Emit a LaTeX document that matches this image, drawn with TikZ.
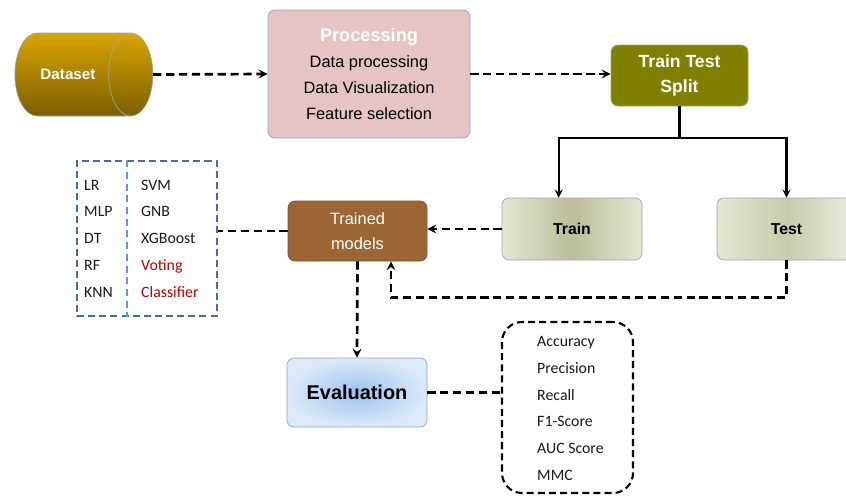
\documentclass[tikz,border=0pt]{standalone}
\usepackage{fontspec}
\setmainfont{Liberation Sans}
\newfontfamily\calfont{Carlito}
\usetikzlibrary{shapes.geometric}

\definecolor{goldtop}{HTML}{D9A500}
\definecolor{goldbot}{HTML}{7C5E00}
\definecolor{pinkbox}{HTML}{E6C4C4}
\definecolor{olive}{HTML}{808000}
\definecolor{oliveedge}{HTML}{E6E6D4}
\definecolor{olivemid}{HTML}{BDBD98}
\definecolor{brown}{HTML}{9C6634}
\definecolor{evalin}{HTML}{9CC2F0}
\definecolor{evalout}{HTML}{DCE9F8}
\definecolor{boxline}{HTML}{95A8BE}
\definecolor{mdlblue}{HTML}{41719C}
\definecolor{divblue}{HTML}{5B9BD5}
\definecolor{votered}{HTML}{C00000}

\begin{document}
\begin{tikzpicture}[x=0.03cm,y=-0.03cm,>=stealth,
	stage/.style={rounded corners=6pt,draw=boxline,line width=0.6pt,align=center,inner sep=0pt},
	link/.style={line width=2.3pt,dash pattern=on 7pt off 4pt},
	branch/.style={line width=2pt},
	listtext/.style={align=left,anchor=west,inner sep=0pt,text=black!90,font=\calfont\fontsize{13.5}{22.8}\selectfont}]
	\useasboundingbox (0,0) rectangle (846,495);
	
	%DATASET
	\node[cylinder,shape border rotate=0,aspect=2.4,minimum width=2.49cm,minimum height=4.14cm,
		draw=boxline,line width=0.5pt,top color=goldtop,bottom color=goldbot,
		text=white,font=\fontsize{13}{16}\selectfont\bfseries] (data) at (68,74.5) {Dataset};
	
	%PROCESSING
	\node[stage,fill=pinkbox,minimum width=6.06cm,minimum height=3.84cm,
		font=\fontsize{14}{22}\selectfont] (proc) at (369,74)
		{{\fontsize{15.5}{20}\selectfont\bfseries\color{white}Processing}\\Data processing\\Data Visualization\\Feature selection};
	
	%SPLIT
	\node[stage,fill=olive,draw=olive!70,minimum width=4.11cm,minimum height=1.83cm,
		text=white,font=\fontsize{15}{22}\selectfont\bfseries] (tts) at (679.5,75.5) {Train Test\\Split};
	
	\node[stage,left color=oliveedge,right color=oliveedge,middle color=olivemid,
		minimum width=4.2cm,minimum height=1.86cm,font=\fontsize{13.5}{16}\selectfont\bfseries] (train) at (572,229) {Train};
	\node[stage,left color=oliveedge,right color=oliveedge!70!white,middle color=olivemid!80!white,
		minimum width=4.17cm,minimum height=1.86cm,font=\fontsize{13.5}{16}\selectfont\bfseries] (test) at (786.5,229) {Test};
	
	%MODELS
	\node[stage,fill=brown,draw=brown!80!black,minimum width=4.17cm,minimum height=1.8cm,
		text=white,font=\fontsize{14}{21}\selectfont] (trained) at (357.5,231) {Trained\\models};
	
	\node[draw=mdlblue,line width=1.5pt,dash pattern=on 6pt off 3.5pt,minimum width=4.2cm,minimum height=4.65cm,inner sep=0pt] (models) at (147,238.5) {};
	\draw[divblue,line width=1.2pt,dash pattern=on 6pt off 4pt] ([xshift=1.53cm]models.north west)--([xshift=1.53cm]models.south west);
	\node[listtext] (colA) at (84,238.5) {LR\\MLP\\DT\\RF\\KNN};
	\node[listtext] (colB) at (141,238.5) {SVM\\GNB\\XGBoost\\\textcolor{votered}{Voting}\\\textcolor{votered}{Classifier}};
	
	%EVALUATION
	\node[stage,shading=radial,inner color=evalin,outer color=evalout,draw=boxline,
		minimum width=4.2cm,minimum height=2.07cm,font=\fontsize{17}{20}\selectfont\bfseries] (eval) at (357,392.5) {Evaluation};
	
	\node[draw,rounded corners=0.6cm,line width=1.8pt,dash pattern=on 6pt off 3.5pt,
		minimum width=3.93cm,minimum height=5.13cm,inner sep=0pt] (metrics) at (567.5,407.5) {};
	\node[listtext] (mlist) at (537,408.5) {Accuracy\\Precision\\Recall\\F1-Score\\AUC Score\\MMC};
	
	%LINKS
	\coordinate (fork) at (679.5,138);
	\coordinate (back) at (391,297.5);
	\draw[link,->] (data.east)--(proc.west);
	\draw[link,->] (proc.east)--(proc.east -| tts.west);
	\draw[branch] (tts.south)--(fork);
	\draw[branch,->] (fork)-|([xshift=-0.4cm]train.north);
	\draw[branch,->] (fork)-|(test.north);
	\draw[link,->] (train.west)--(train.west -| trained.east);
	\draw[link,->] (test.south)|-(back)--(back |- trained.south);
	\draw[link] (trained.west)--(trained.west -| models.east);
	\draw[link,->] (trained.south)--(eval.north);
	\draw[link] (eval.east)--(eval.east -| metrics.west);
\end{tikzpicture}
\end{document}
